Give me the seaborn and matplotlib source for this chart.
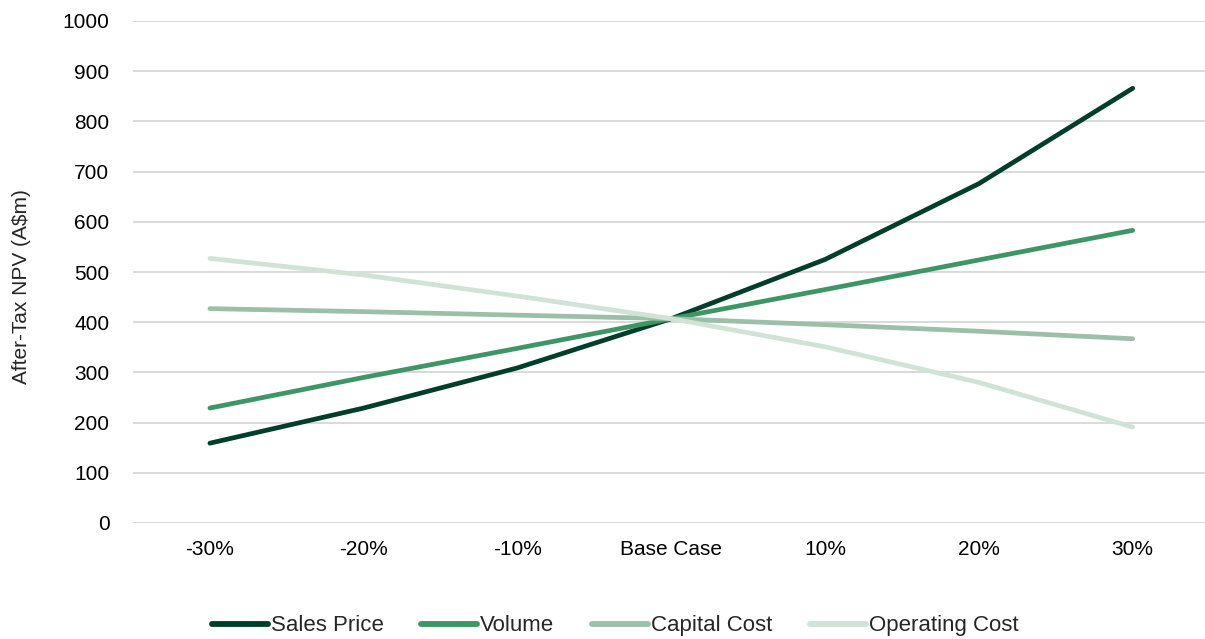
import numpy as np
import pandas as pd
import matplotlib
matplotlib.use("Agg")
import matplotlib.pyplot as plt
import seaborn as sns

# --- chart data ---
scenarios = ["-30%", "-20%", "-10%", "Base Case", "10%", "20%", "30%"]
sales_price = [159, 229, 309, 407, 525, 676, 866]
volume = [229, 290, 348, 407, 465, 524, 583]
capital_cost = [427, 421, 414, 407, 395, 382, 367]
operating_cost = [527, 494, 452, 407, 351, 280, 191]

series_names = ["Sales Price", "Volume", "Capital Cost", "Operating Cost"]
series_colors = ["#003D2B", "#3E9566", "#9BBFA8", "#D0E3D6"]

df = pd.DataFrame({
    "Scenario": scenarios * 4,
    "pos": list(range(len(scenarios))) * 4,
    "Series": np.repeat(series_names, len(scenarios)),
    "NPV": sales_price + volume + capital_cost + operating_cost,
})

sns.set_theme(style="white")
plt.rcParams["font.family"] = ["Liberation Sans", "DejaVu Sans"]

fig = plt.figure(figsize=(12.05, 6.39), dpi=100)
ax = fig.add_axes([133 / 1205, 1 - 523 / 639, 1 - 133 / 1205, (523 - 21) / 639])

sns.lineplot(data=df, x="pos", y="NPV", hue="Series", hue_order=series_names,
             palette=series_colors, linewidth=3.4, ax=ax, legend=True,
             solid_capstyle="round")

ax.set_xlim(-0.5, 6.47)
ax.set_ylim(0, 1000)
ax.set_yticks(range(0, 1001, 100))
ax.set_xticks(range(len(scenarios)))
ax.set_xticklabels(scenarios)
ax.yaxis.grid(True, color="#D9D9D9", linewidth=1.4)
ax.xaxis.grid(False)
for s in ax.spines.values():
    s.set_visible(False)
ax.tick_params(axis="y", labelsize=15, pad=17, length=0, colors="#000000")
ax.tick_params(axis="x", labelsize=15, pad=12, length=0, colors="#000000")
ax.set_xlabel("")
ax.set_ylabel("After-Tax NPV (A$m)", fontsize=15)
ax.yaxis.set_label_coords(-102 / 1072, 0.47)

handles, labels = ax.get_legend_handles_labels()
ax.legend(handles, labels, loc="center", bbox_to_anchor=(0.45, -0.205),
          ncol=4, frameon=False, fontsize=16, handlelength=2.5,
          handletextpad=0.15, columnspacing=1.7)
for line in ax.get_legend().get_lines():
    line.set_linewidth(4.2)
    line.set_solid_capstyle("round")

fig.savefig("out.png", dpi=100)
